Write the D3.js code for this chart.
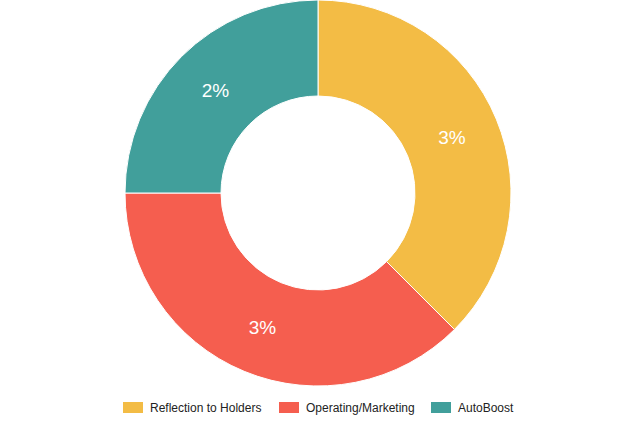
<!DOCTYPE html>
<html><head><meta charset="utf-8">
<script src="https://cdn.jsdelivr.net/npm/d3@7"></script>
<style>body{margin:0;background:#fff}svg{display:block}</style>
</head><body>
<svg id="c" width="636" height="424"></svg>
<script>
const categories = ["Reflection to Holders", "Operating/Marketing", "AutoBoost"];
const values = [3, 3, 2];
const labels = ["3%", "3%", "2%"];
const colors = ["#F3BC45", "#F55E4F", "#419F9B"];

const svg = d3.select("#c");
const cx = 318, cy = 193, outerR = 193, innerR = 97;
const data = categories.map((c, i) => ({c, v: values[i], l: labels[i], col: colors[i]}));
const pie = d3.pie().value(d => d.v).sort(null);
const arc = d3.arc().innerRadius(innerR).outerRadius(outerR);
const g = svg.append("g").attr("transform", `translate(${cx},${cy})`);
const arcs = pie(data);
g.selectAll("path").data(arcs).join("path")
  .attr("d", arc).attr("fill", d => d.data.col)
  .attr("stroke", "#fff").attr("stroke-width", 1);
g.selectAll("text").data(arcs).join("text")
  .attr("transform", d => `translate(${arc.centroid(d)})`)
  .attr("text-anchor", "middle").attr("dy", "0.35em")
  .attr("fill", "#fff").attr("font-family", "Liberation Sans, Arial, sans-serif")
  .attr("font-size", 19).text(d => d.data.l);

const legendX = [123, 279, 431];
const lg = svg.append("g");
data.forEach((d, i) => {
  lg.append("rect").attr("x", legendX[i]).attr("y", 402).attr("width", 20).attr("height", 11).attr("fill", d.col);
  lg.append("text").attr("x", legendX[i] + 27).attr("y", 411.5)
    .attr("font-family", "Liberation Sans, Arial, sans-serif").attr("font-size", 12)
    .attr("fill", "#222").text(d.c);
});
</script>
</body></html>
